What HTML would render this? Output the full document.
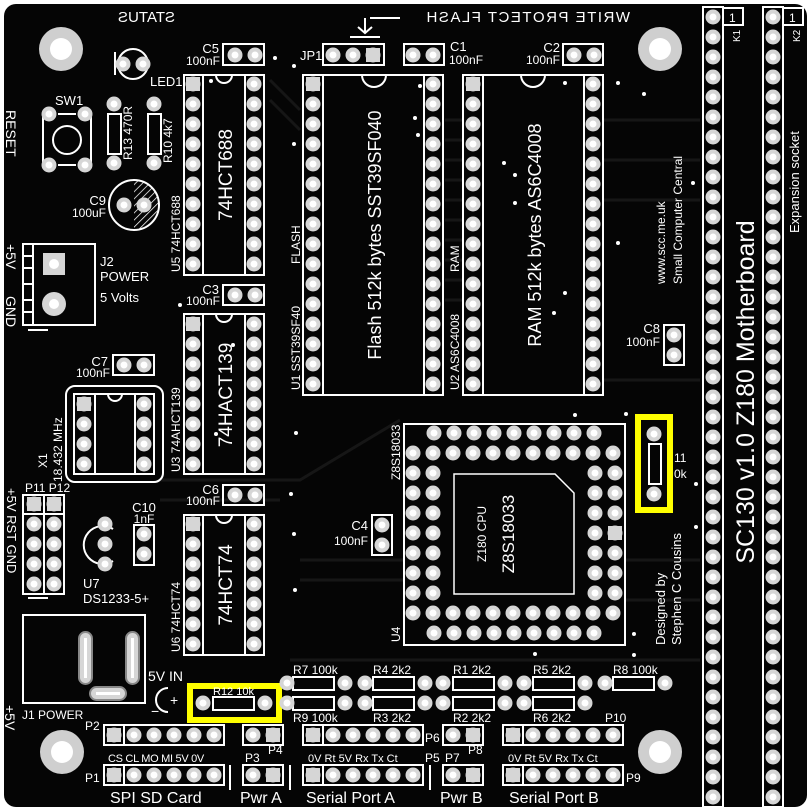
<!DOCTYPE html>
<html><head><meta charset="utf-8">
<style>
html,body{margin:0;padding:0;background:#fff;}
svg{display:block;}
text{font-family:"Liberation Sans",sans-serif;fill:#fff;}
</style></head>
<body>
<svg width="809" height="809" viewBox="0 0 809 809" xmlns="http://www.w3.org/2000/svg">
<defs>
<pattern id="pad" width="20" height="20" patternUnits="userSpaceOnUse">
<circle cx="10" cy="10" r="7.5" fill="#d6d6d6"/><circle cx="10" cy="10" r="3.5" fill="#fff"/>
</pattern>
<pattern id="hatch" width="5" height="5" patternUnits="userSpaceOnUse" patternTransform="rotate(45)">
<line x1="0" y1="0" x2="0" y2="5" stroke="#fff" stroke-width="1.5"/>
</pattern>
</defs>
<rect x="4" y="4" width="803" height="803" rx="12" fill="#050505"/>
<g stroke="#161616" stroke-width="3" fill="none">
<path d="M270 80 L300 110 M270 100 L300 130 M445 120 L463 120 M445 140 L463 140 M445 160 L463 160 M445 180 L463 180 M445 200 L463 200 M445 220 L463 220 M445 240 L463 240 M445 260 L463 260 M445 280 L463 280 M445 300 L463 300"/>
<path d="M160 480 L300 480 L400 420 M160 500 L280 500 M300 560 L404 560 M300 580 L404 580 M290 660 L700 660"/>
<path d="M603 120 L700 120 M603 160 L700 160 M603 200 L700 200 M603 380 L700 380 M625 560 L700 560 M625 600 L700 600"/>
</g>

<g fill="#cfcfcf"><circle cx="61" cy="49" r="22"/><circle cx="660" cy="49" r="22"/><circle cx="62" cy="752" r="22"/><circle cx="660" cy="752" r="22"/></g>
<g fill="#fff"><circle cx="61" cy="49" r="11"/><circle cx="660" cy="49" r="11"/><circle cx="62" cy="752" r="11"/><circle cx="660" cy="752" r="11"/></g>

<g fill="none" stroke="#fff" stroke-width="2">
<rect x="703" y="7" width="20" height="800"/><rect x="723" y="8" width="20" height="17"/>
<rect x="763" y="7" width="20" height="800"/><rect x="783" y="8" width="20" height="17"/>
<path d="M43 112 V168 M91 112 V168 M58 114 H76 M58 165 H76"/><circle cx="67" cy="140" r="14"/>
<circle cx="133" cy="64" r="15"/><line x1="115" y1="52" x2="115" y2="75"/>
<rect x="108" y="114" width="13" height="40"/><rect x="148" y="114" width="13" height="40"/>
<circle cx="134" cy="205" r="25"/>
<rect x="23" y="244" width="72" height="81"/><path d="M33 244 V325 M23 256 H33 M23 268 H33 M23 284 H33 M23 300 H33 M23 312 H33"/>
<rect x="223" y="44" width="41" height="21"/><rect x="223" y="285" width="41" height="20"/><rect x="223" y="485" width="41" height="20"/><rect x="113" y="355" width="41" height="20"/>
<rect x="184" y="75" width="80" height="200"/><path d="M203 75 V275 M245 75 V275"/><path d="M216 75 A8 8 0 0 0 232 75"/>
<rect x="184" y="314" width="80" height="160"/><path d="M203 314 V474 M245 314 V474"/><path d="M216 314 A8 8 0 0 0 232 314"/>
<rect x="184" y="515" width="80" height="140"/><path d="M203 515 V655 M245 515 V655"/><path d="M216 515 A8 8 0 0 0 232 515"/>
<rect x="66" y="386" width="97" height="96" rx="9"/><rect x="74" y="394" width="80" height="80"/><path d="M95 394 V474 M135 394 V474"/><path d="M108 394 A7 7 0 0 0 122 394"/>
<rect x="23" y="495" width="41" height="99"/><path d="M44 495 V594 M23 514 H64"/>
<path d="M113 529 A19 19 0 1 0 113 561"/>
<rect x="134" y="525" width="20" height="40"/>
<rect x="23" y="615" width="122" height="88"/>
<rect x="323" y="44" width="61" height="21"/><rect x="404" y="44" width="40" height="21"/><rect x="563" y="44" width="40" height="21"/>
<rect x="303" y="75" width="140" height="320"/><path d="M323 75 V395 M424 75 V395"/><path d="M362 75 A12 12 0 0 0 386 75"/>
<rect x="463" y="75" width="140" height="320"/><path d="M483 75 V395 M584 75 V395"/><path d="M521 75 A12 12 0 0 0 545 75"/>
<rect x="664" y="325" width="20" height="40"/><rect x="372" y="515" width="20" height="40"/>
<rect x="404" y="424" width="221" height="221"/><path d="M454 474 H555 L574 493 V594 H454 Z" stroke-width="1.5"/>
<rect x="649" y="444" width="12" height="40"/>
<rect x="293" y="677" width="41" height="13"/><rect x="373" y="677" width="41" height="13"/><rect x="453" y="677" width="41" height="13"/><rect x="533" y="677" width="41" height="13"/><rect x="613" y="677" width="41" height="13"/>
<rect x="293" y="697" width="41" height="13"/><rect x="373" y="697" width="41" height="13"/><rect x="453" y="697" width="41" height="13"/><rect x="533" y="697" width="41" height="13"/>
<rect x="213" y="697" width="41" height="13"/>
<rect x="104" y="725" width="120" height="20"/><path d="M124 725 V745"/>
<rect x="104" y="765" width="120" height="20"/><path d="M124 765 V785"/>
<rect x="243" y="725" width="40" height="20"/><rect x="243" y="765" width="40" height="20"/>
<rect x="303" y="725" width="120" height="20"/><path d="M323 725 V745"/>
<rect x="303" y="765" width="120" height="20"/><path d="M323 765 V785"/>
<rect x="443" y="725" width="40" height="20"/><rect x="443" y="765" width="40" height="20"/>
<rect x="503" y="725" width="120" height="20"/><path d="M523 725 V745"/>
<rect x="503" y="765" width="120" height="20"/><path d="M523 765 V785"/>
<path d="M168 688 A12 12 0 0 0 168 712"/>
<path d="M365 18 V33 M358 27 L365 33 L372 27 M350 37 H380 M370 18 H400"/>
<path d="M230 765 V790 M290 765 V790 M430 765 V790"/>
<path d="M28 330 H48 M28 598 H48"/>
</g>
<path d="M134 180 A25 25 0 0 1 134 230 Z" fill="url(#hatch)"/>
<rect x="190" y="686" width="89" height="34" fill="none" stroke="#ffff00" stroke-width="6"/>
<rect x="638" y="417" width="32" height="93" fill="none" stroke="#ffff00" stroke-width="6"/>

<g fill="url(#pad)">
<rect transform="translate(703,7)" width="20" height="800"/>
<rect transform="translate(763,7)" width="20" height="800"/>
<rect transform="translate(183,74)" width="20" height="200"/><rect transform="translate(244,74)" width="20" height="200"/>
<rect transform="translate(183,314)" width="20" height="160"/><rect transform="translate(244,314)" width="20" height="160"/>
<rect transform="translate(183,514)" width="20" height="140"/><rect transform="translate(244,514)" width="20" height="140"/>
<rect transform="translate(303,74)" width="20" height="320"/><rect transform="translate(423,74)" width="20" height="320"/>
<rect transform="translate(463,74)" width="20" height="320"/><rect transform="translate(583,74)" width="20" height="320"/>
<rect transform="translate(74,394)" width="20" height="80"/><rect transform="translate(134,394)" width="20" height="80"/>
<rect transform="translate(24,494)" width="40" height="100"/>
<rect transform="translate(95,514)" width="20" height="60"/>
<rect transform="translate(134,524)" width="20" height="40"/>
<rect transform="translate(225,45)" width="40" height="20"/><rect transform="translate(225,285)" width="40" height="20"/><rect transform="translate(225,485)" width="40" height="20"/><rect transform="translate(114,355)" width="40" height="20"/>
<rect transform="translate(323,45)" width="60" height="20"/><rect transform="translate(403,45)" width="40" height="20"/><rect transform="translate(564,45)" width="40" height="20"/>
<rect transform="translate(664,325)" width="20" height="40"/><rect transform="translate(372,515)" width="20" height="40"/>
<rect transform="translate(424,423)" width="180" height="20"/><rect transform="translate(403,443)" width="220" height="20"/>
<rect transform="translate(403,463)" width="40" height="140"/><rect transform="translate(585,463)" width="40" height="140"/>
<rect transform="translate(403,603)" width="220" height="20"/><rect transform="translate(424,623)" width="180" height="20"/>
<rect transform="translate(104,725)" width="120" height="20"/><rect transform="translate(104,765)" width="120" height="20"/>
<rect transform="translate(243,725)" width="40" height="20"/><rect transform="translate(243,765)" width="40" height="20"/>
<rect transform="translate(303,725)" width="120" height="20"/><rect transform="translate(303,765)" width="120" height="20"/>
<rect transform="translate(443,725)" width="40" height="20"/><rect transform="translate(443,765)" width="40" height="20"/>
<rect transform="translate(503,725)" width="120" height="20"/><rect transform="translate(503,765)" width="120" height="20"/>
</g>
<g fill="#d6d6d6">
<circle cx="49" cy="114" r="7.5"/><circle cx="85" cy="114" r="7.5"/><circle cx="49" cy="165" r="7.5"/><circle cx="85" cy="165" r="7.5"/>
<circle cx="114" cy="104" r="7.5"/><circle cx="114" cy="163" r="7.5"/><circle cx="154" cy="104" r="7.5"/><circle cx="154" cy="163" r="7.5"/>
<circle cx="123" cy="64" r="7.5"/><circle cx="143" cy="64" r="7.5"/>
<circle cx="124" cy="205" r="7.5"/><circle cx="144" cy="205" r="7.5"/>
<circle cx="54" cy="304" r="12"/><rect x="43" y="253" width="22" height="22"/>
<circle cx="654" cy="434" r="7.5"/><circle cx="654" cy="494" r="7.5"/>
<circle cx="203" cy="703" r="7.5"/><circle cx="265" cy="703" r="7.5"/>
<circle cx="287" cy="683" r="7.5"/><circle cx="345" cy="683" r="7.5"/><circle cx="365" cy="683" r="7.5"/><circle cx="425" cy="683" r="7.5"/><circle cx="443" cy="683" r="7.5"/><circle cx="505" cy="683" r="7.5"/><circle cx="524" cy="683" r="7.5"/><circle cx="585" cy="683" r="7.5"/><circle cx="605" cy="683" r="7.5"/><circle cx="665" cy="683" r="7.5"/>
<circle cx="287" cy="703" r="7.5"/><circle cx="345" cy="703" r="7.5"/><circle cx="365" cy="703" r="7.5"/><circle cx="425" cy="703" r="7.5"/><circle cx="443" cy="703" r="7.5"/><circle cx="505" cy="703" r="7.5"/><circle cx="524" cy="703" r="7.5"/><circle cx="585" cy="703" r="7.5"/>
<rect x="79" y="632" width="13" height="52" rx="6.5" stroke="#888" stroke-width="2"/><rect x="126" y="632" width="13" height="52" rx="6.5" stroke="#888" stroke-width="2"/><rect x="90" y="687" width="36" height="13" rx="6.5" stroke="#888" stroke-width="2"/>
</g>
<g fill="#fff">
<circle cx="123" cy="64" r="3.5"/><circle cx="143" cy="64" r="3.5"/>
<circle cx="49" cy="114" r="3.5"/><circle cx="85" cy="114" r="3.5"/><circle cx="49" cy="165" r="3.5"/><circle cx="85" cy="165" r="3.5"/>
<circle cx="114" cy="104" r="3.5"/><circle cx="114" cy="163" r="3.5"/><circle cx="154" cy="104" r="3.5"/><circle cx="154" cy="163" r="3.5"/>
<circle cx="124" cy="205" r="3.5"/><circle cx="144" cy="205" r="3.5"/><circle cx="54" cy="304" r="5"/><circle cx="54" cy="264" r="5"/>
<circle cx="654" cy="434" r="3.5"/><circle cx="654" cy="494" r="3.5"/><circle cx="203" cy="703" r="3.5"/><circle cx="265" cy="703" r="3.5"/>
<circle cx="287" cy="683" r="3.5"/><circle cx="345" cy="683" r="3.5"/><circle cx="365" cy="683" r="3.5"/><circle cx="425" cy="683" r="3.5"/><circle cx="443" cy="683" r="3.5"/><circle cx="505" cy="683" r="3.5"/><circle cx="524" cy="683" r="3.5"/><circle cx="585" cy="683" r="3.5"/><circle cx="605" cy="683" r="3.5"/><circle cx="665" cy="683" r="3.5"/>
<circle cx="287" cy="703" r="3.5"/><circle cx="345" cy="703" r="3.5"/><circle cx="365" cy="703" r="3.5"/><circle cx="425" cy="703" r="3.5"/><circle cx="443" cy="703" r="3.5"/><circle cx="505" cy="703" r="3.5"/><circle cx="524" cy="703" r="3.5"/><circle cx="585" cy="703" r="3.5"/>
<rect x="84" y="638" width="3" height="40"/><rect x="131" y="638" width="3" height="40"/><rect x="96" y="692" width="24" height="3"/>
<circle cx="211" cy="81" r="2"/><circle cx="275" cy="58" r="2"/><circle cx="294" cy="66" r="2"/><circle cx="180" cy="305" r="2"/><circle cx="233" cy="345" r="2"/><circle cx="294" cy="144" r="2"/>
<circle cx="420" cy="86" r="2"/><circle cx="415" cy="118" r="2"/><circle cx="418" cy="135" r="2"/><circle cx="504" cy="163" r="2"/><circle cx="515" cy="175" r="2"/><circle cx="515" cy="203" r="2"/><circle cx="565" cy="83" r="2"/><circle cx="618" cy="83" r="2"/><circle cx="644" cy="94" r="2"/><circle cx="618" cy="243" r="2"/><circle cx="693" cy="183" r="2"/><circle cx="565" cy="293" r="2"/><circle cx="554" cy="313" r="2"/><circle cx="575" cy="415" r="2"/><circle cx="626" cy="414" r="2"/><circle cx="696" cy="484" r="2"/><circle cx="696" cy="527" r="2"/><circle cx="634" cy="634" r="2"/><circle cx="634" cy="655" r="2"/><circle cx="535" cy="654" r="2"/><circle cx="296" cy="433" r="2"/><circle cx="291" cy="494" r="2"/><circle cx="294" cy="534" r="2"/><circle cx="216" cy="434" r="2"/><circle cx="295" cy="590" r="2"/>
</g>
<g fill="#d6d6d6">
<rect x="186" y="77" width="14" height="14"/><rect x="186" y="317" width="14" height="14"/><rect x="186" y="517" width="14" height="14"/>
<rect x="306" y="77" width="14" height="14"/><rect x="466" y="77" width="14" height="14"/>
<rect x="77" y="397" width="14" height="14"/><rect x="27" y="497" width="14" height="14"/><rect x="47" y="497" width="14" height="14"/>
<rect x="366" y="48" width="14" height="14"/><rect x="608" y="526" width="14" height="14"/>
<rect x="107" y="728" width="14" height="14"/><rect x="107" y="768" width="14" height="14"/>
<rect x="266" y="728" width="14" height="14"/><rect x="266" y="768" width="14" height="14"/>
<rect x="306" y="728" width="14" height="14"/><rect x="306" y="768" width="14" height="14"/>
<rect x="466" y="728" width="14" height="14"/><rect x="466" y="768" width="14" height="14"/>
<rect x="506" y="728" width="14" height="14"/><rect x="506" y="768" width="14" height="14"/>
</g>

<g font-size="13">
<text transform="translate(175,22) scale(-1,1)" font-size="15">STATUS</text>
<text transform="translate(630,22) scale(-1,1)" font-size="15" letter-spacing="1.5">WRITE PROTECT FLASH</text>
<text transform="translate(6,110) rotate(90)" font-size="14">RESET</text>
<text x="55" y="105">SW1</text>
<text x="150" y="86">LED1</text>
<text transform="translate(132,160) rotate(-90)" font-size="12">R13 470R</text>
<text transform="translate(172,163) rotate(-90)" font-size="12">R10 4k7</text>
<text x="106" y="205" text-anchor="end">C9</text>
<text x="106" y="217" text-anchor="end" font-size="12">100uF</text>
<text x="100" y="266">J2</text><text x="100" y="281">POWER</text><text x="100" y="302">5 Volts</text>
<text transform="translate(6,244) rotate(90)" font-size="14">+5V</text>
<text transform="translate(6,296) rotate(90)" font-size="14">GND</text>
<text x="219" y="53" text-anchor="end">C5</text><text x="220" y="65" text-anchor="end" font-size="12">100nF</text>
<text x="219" y="294" text-anchor="end">C3</text><text x="220" y="305" text-anchor="end" font-size="12">100nF</text>
<text x="219" y="494" text-anchor="end">C6</text><text x="220" y="505" text-anchor="end" font-size="12">100nF</text>
<text x="108" y="366" text-anchor="end">C7</text><text x="110" y="377" text-anchor="end" font-size="12">100nF</text>
<text transform="translate(232,175) rotate(-90)" font-size="19" text-anchor="middle">74HCT688</text>
<text transform="translate(180,272) rotate(-90)" font-size="12">U5  74HCT688</text>
<text transform="translate(232,395) rotate(-90)" font-size="19" text-anchor="middle">74HACT139</text>
<text transform="translate(180,472) rotate(-90)" font-size="12">U3  74AHCT139</text>
<text transform="translate(232,585) rotate(-90)" font-size="19" text-anchor="middle">74HCT74</text>
<text transform="translate(180,652) rotate(-90)" font-size="12">U6  74HCT74</text>
<text transform="translate(47,468) rotate(-90)" font-size="12">X1</text>
<text transform="translate(62,482) rotate(-90)" font-size="12">18.432 MHz</text>
<text x="25" y="492" font-size="12">P11 P12</text>
<text transform="translate(7,488) rotate(90)" font-size="13">+5V  RST  GND</text>
<text x="83" y="588">U7</text><text x="83" y="603">DS1233-5+</text>
<text x="144" y="512" text-anchor="middle">C10</text><text x="144" y="523" text-anchor="middle" font-size="12">1nF</text>
<text x="22" y="719" font-size="12">J1 POWER</text>
<text transform="translate(5,705) rotate(90)" font-size="14">+5V</text>
<text x="148" y="681" font-size="14">5V IN</text>
<text x="170" y="705" font-size="14">+</text><text x="151" y="716" font-size="14">−</text>
<text x="300" y="60">JP1</text>
<text x="450" y="51">C1</text><text x="449" y="64" font-size="12">100nF</text>
<text x="560" y="52" text-anchor="end">C2</text><text x="560" y="64" text-anchor="end" font-size="12">100nF</text>
<text transform="translate(381,235) rotate(-90)" font-size="18" text-anchor="middle">Flash 512k bytes SST39SF040</text>
<text transform="translate(300,390) rotate(-90)" font-size="12">U1   SST39SF40</text>
<text transform="translate(300,264) rotate(-90)" font-size="12">FLASH</text>
<text transform="translate(541,235) rotate(-90)" font-size="18" text-anchor="middle">RAM 512k bytes AS6C4008</text>
<text transform="translate(459,390) rotate(-90)" font-size="12">U2   AS6C4008</text>
<text transform="translate(459,272) rotate(-90)" font-size="12">RAM</text>
<text transform="translate(665,284) rotate(-90)" font-size="12">www.scc.me.uk</text>
<text transform="translate(682,284) rotate(-90)" font-size="12">Small Computer Central</text>
<text x="660" y="333" text-anchor="end">C8</text><text x="660" y="346" text-anchor="end" font-size="12">100nF</text>
<text x="368" y="530" text-anchor="end">C4</text><text x="368" y="545" text-anchor="end" font-size="12">100nF</text>
<text transform="translate(400,480) rotate(-90)" font-size="12">Z8S18033</text>
<text transform="translate(400,642) rotate(-90)" font-size="12">U4</text>
<text transform="translate(486,534) rotate(-90)" font-size="12" text-anchor="middle">Z180  CPU</text>
<text transform="translate(514,534) rotate(-90)" font-size="17" text-anchor="middle">Z8S18033</text>
<text x="674" y="462" font-size="12">11</text><text x="674" y="478" font-size="12">0k</text>
<text transform="translate(665,645) rotate(-90)" font-size="13">Designed by</text>
<text transform="translate(681,645) rotate(-90)" font-size="13">Stephen C Cousins</text>
<text transform="translate(754,392) rotate(-90)" font-size="25" text-anchor="middle">SC130 v1.0 Z180 Motherboard</text>
<text transform="translate(799,233) rotate(-90)" font-size="13">Expansion socket</text>
<text transform="translate(740,42) rotate(-90)" font-size="10">K1</text>
<text transform="translate(800,42) rotate(-90)" font-size="10">K2</text>
<text x="729" y="22" font-size="12">1</text><text x="789" y="22" font-size="12">1</text>
<text x="213" y="695" font-size="11">R12  10k</text>
<g font-size="12">
<text x="293" y="674">R7 100k</text><text x="373" y="674">R4 2k2</text><text x="453" y="674">R1  2k2</text><text x="533" y="674">R5 2k2</text><text x="613" y="674">R8 100k</text>
<text x="293" y="722">R9  100k</text><text x="373" y="722">R3  2k2</text><text x="453" y="722">R2  2k2</text><text x="533" y="722">R6  2k2</text>
<text x="85" y="730">P2</text><text x="85" y="782">P1</text>
<text x="108" y="762" font-size="11" letter-spacing="-0.3">CS CL MO MI 5V 0V</text>
<text x="245" y="762">P3</text><text x="268" y="754">P4</text>
<text x="308" y="762" font-size="11">0V Rt 5V Rx Tx Ct</text>
<text x="425" y="742">P6</text><text x="425" y="762">P5</text>
<text x="445" y="762">P7</text><text x="468" y="754">P8</text>
<text x="508" y="762" font-size="11">0V Rt 5V Rx Tx Ct</text>
<text x="605" y="722">P10</text><text x="626" y="782">P9</text>
</g>
<g font-size="16">
<text x="110" y="803">SPI SD Card</text><text x="240" y="803">Pwr A</text><text x="306" y="803">Serial Port A</text><text x="440" y="803">Pwr B</text><text x="509" y="803">Serial Port B</text>
</g>
</g>
</svg>
</body></html>
